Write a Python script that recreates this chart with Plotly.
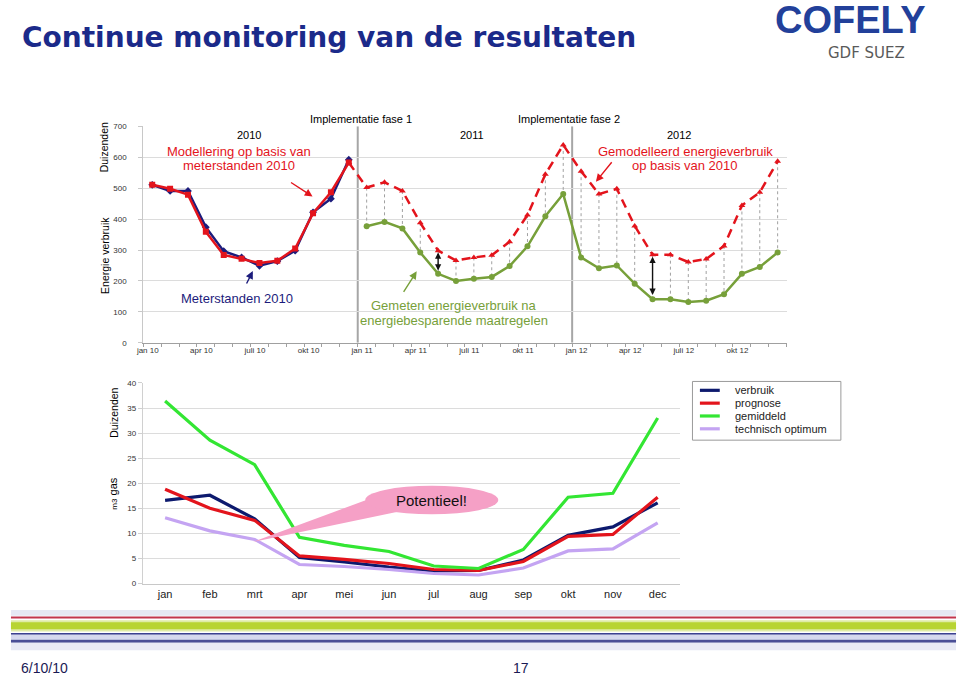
import plotly.graph_objects as go

W, H = 960, 681

# ---------------- data: top chart (thousands) ----------------
top_tick_labels = ["jan 10", "apr 10", "juli 10", "okt 10", "jan 11", "apr 11",
                   "juli 11", "okt 11", "jan 12", "apr 12", "juli 12", "okt 12"]
meterstanden_2010 = [511, 491, 491, 374, 296, 276, 249, 264, 298, 422, 466, 592]
model_2010 = [511, 498, 479, 359, 284, 272, 258, 265, 305, 419, 487, 583]
model_2011_2012 = [502, 519, 491, 388, 298, 266, 276, 283, 327, 413, 545, 640,
                   555, 481, 498, 378, 285, 285, 261, 271, 313, 444, 487, 587]
gemeten_2011_2012 = [377, 391, 370, 292, 223, 200, 207, 213, 248, 312, 409, 481,
                     276, 241, 250, 191, 141, 141, 132, 136, 157, 223, 245, 292]
savings_arrows = [(16, 292, 229), (28, 278, 150)]  # month index, top, bottom

# ---------------- data: bottom chart (thousands m3 gas) ----------------
months_nl = ["jan", "feb", "mrt", "apr", "mei", "jun", "jul", "aug", "sep", "okt", "nov", "dec"]
verbruik = [16.6, 17.6, 12.9, 5.2, 4.3, 3.3, 2.5, 2.6, 4.7, 9.6, 11.3, 16.1]
prognose = [18.8, 15.0, 12.6, 5.5, 4.8, 4.0, 2.8, 2.6, 4.4, 9.4, 9.8, 17.2]
gemiddeld = [36.4, 28.6, 23.7, 9.2, 7.6, 6.4, 3.5, 3.0, 6.8, 17.2, 18.0, 33.0]
technisch_optimum = [13.1, 10.5, 8.8, 3.8, 3.4, 2.8, 2.0, 1.7, 3.1, 6.5, 6.9, 12.1]
bottom_names = ["verbruik", "prognose", "gemiddeld", "technisch optimum"]
bottom_colors = ["#0d1a6e", "#e3141c", "#33e633", "#c4a4f2"]

FONT = "Liberation Sans"
RED = "#e3141c"
NAVY = "#1c1c7c"
GREEN = "#77a03a"


def px(x):
    return x / W


def py(y):
    return 1 - y / H


fig = go.Figure()

# ---------------- top chart traces ----------------
idx2010 = list(range(12))
idx_later = list(range(12, 36))

# drop lines between modelled and measured
dx, dy = [], []
for i, (a, b) in zip(idx_later, zip(model_2011_2012, gemeten_2011_2012)):
    dx += [i, i, None]
    dy += [a, b, None]
fig.add_trace(go.Scatter(x=dx, y=dy, mode="lines", line=dict(color="#a0a0a0", width=1, dash="dot"),
                         xaxis="x", yaxis="y", showlegend=False, hoverinfo="skip"))

fig.add_trace(go.Scatter(x=[11] + idx_later, y=[model_2010[-1]] + model_2011_2012, mode="lines+markers",
                         line=dict(color=RED, width=2.5, dash="9px,6px"),
                         marker=dict(symbol="triangle-up", size=6, color=RED),
                         xaxis="x", yaxis="y", showlegend=False))
fig.add_trace(go.Scatter(x=idx_later, y=gemeten_2011_2012, mode="lines+markers",
                         line=dict(color=GREEN, width=2.5), marker=dict(symbol="circle", size=6, color=GREEN),
                         xaxis="x", yaxis="y", showlegend=False))
fig.add_trace(go.Scatter(x=idx2010, y=meterstanden_2010, mode="lines+markers",
                         line=dict(color=NAVY, width=2.5), marker=dict(symbol="diamond", size=6, color=NAVY),
                         xaxis="x", yaxis="y", showlegend=False))
fig.add_trace(go.Scatter(x=idx2010, y=model_2010, mode="lines+markers",
                         line=dict(color=RED, width=2.5), marker=dict(symbol="square", size=6, color=RED),
                         xaxis="x", yaxis="y", showlegend=False))

# ---------------- bottom chart traces ----------------
for name, vals, col in zip(bottom_names, [verbruik, prognose, gemiddeld, technisch_optimum], bottom_colors):
    fig.add_trace(go.Scatter(x=list(range(12)), y=vals, mode="lines", name=name,
                             line=dict(color=col, width=3.2), xaxis="x2", yaxis="y2", showlegend=False))

shapes = []
annotations = []

# separators in top chart
for xv in (11.5, 23.5):
    shapes.append(dict(type="line", xref="x", yref="y", x0=xv, x1=xv, y0=0, y1=700,
                       line=dict(color="#a6a6a6", width=2), layer="below"))

# double arrows
for xi, ytop, ybot in savings_arrows:
    annotations.append(dict(x=xi, y=ytop, ax=xi, ay=ybot, xref="x", yref="y", axref="x", ayref="y",
                            text="", showarrow=True, arrowhead=2, arrowside="end+start",
                            arrowsize=0.9, arrowwidth=1.4, arrowcolor="#111"))

# pointer arrows (head in data coords, tail offset in pixels)
for hx, hy, ax, ay, col in [(8.97, 473, -23, -15, RED), (5.63, 232, -7, 14, NAVY),
                            (14.8, 231, -14, 22, GREEN), (24.83, 521, 17, -21, RED)]:
    annotations.append(dict(x=hx, y=hy, ax=ax, ay=ay, xref="x", yref="y", text="", showarrow=True,
                            arrowhead=2, arrowsize=1.1, arrowwidth=1.4, arrowcolor=col))


def txt(x, y, s, size, color="#000", family=FONT, xanchor="center", angle=0, bold=False):
    if bold:
        s = "<b>" + s + "</b>"
    annotations.append(dict(x=px(x), y=py(y), xref="paper", yref="paper", text=s, showarrow=False,
                            font=dict(size=size, color=color, family=family), xanchor=xanchor,
                            yanchor="middle", textangle=angle))


# top chart texts
txt(357, 117, "Implementatie fase 1", 11)
txt(566, 117, "Implementatie fase 2", 11)
txt(244, 133, "2010", 11)
txt(468, 133, "2011", 11)
txt(677, 133, "2012", 11)
txt(234, 149, "Modellering op basis van", 13, RED)
txt(234, 164, "meterstanden 2010", 13, RED)
txt(683, 149, "Gemodelleerd energieverbruik", 13, RED)
txt(683, 164, "op basis van 2010", 13, RED)
txt(232, 298, "Meterstanden 2010", 13, NAVY)
txt(450, 306, "Gemeten energieverbruik na", 13, GREEN)
txt(450, 321, "energiebesparende maatregelen", 13, GREEN)
txt(98, 145, "Duizenden", 10.5, "#000", angle=-90)
txt(98, 255, "Energie verbruik", 10.5, "#000", angle=-90)

# bottom chart axis titles
txt(107, 414, "Duizenden", 10.5, "#000", angle=-90)
txt(107, 496, "<span style='font-size:8px'>m3</span> gas", 11, "#000", angle=-90)

# Potentieel callout (in bottom-axis coordinates)
shapes.append(dict(type="path", xref="x2", yref="y2", path="M 1.96,8.3 L 4.75,17.5 L 5.25,14.4 Z",
                   fillcolor="#f5a0c6", line=dict(width=0), layer="above"))
shapes.append(dict(type="circle", xref="x2", yref="y2", x0=4.47, x1=7.44, y0=13.8, y1=19.5,
                   fillcolor="#f5a0c6", line=dict(width=0), layer="above"))
annotations.append(dict(x=5.95, y=16.5, xref="x2", yref="y2", text="Potentieel!", showarrow=False,
                        font=dict(size=15, color="#111", family=FONT)))

# manual legend
shapes.append(dict(type="rect", xref="paper", yref="paper", x0=px(690.5), x1=px(840), y0=py(442), y1=py(382.5),
                   line=dict(color="#9a9a9a", width=1), fillcolor="white"))
for k, (name, col) in enumerate(zip(bottom_names, bottom_colors)):
    yy = 391.5 + k * 13
    shapes.append(dict(type="line", xref="paper", yref="paper", x0=px(698), x1=px(718), y0=py(yy), y1=py(yy),
                       line=dict(color=col, width=3.2)))
    txt(731, yy, name, 11, "#222", xanchor="left")

# title & logo
txt(13, 34, "Continue monitoring van de resultaten", 28, "#1b2a8a", family="DejaVu Sans", xanchor="left", bold=True)
txt(850, 16, "COFELY", 38, "#22409a", family="Liberation Sans", bold=True)
txt(866, 50, "GDF SUEZ", 15, "#5a5a5a", family="DejaVu Sans")

# footer stripes
for y0, y1, col in [(614, 620, "#e6e8f4"), (620.8, 622.8, "#c2364e"), (624.5, 636, "#dfeba6"),
                    (626.5, 633.5, "#b8d432"), (637.3, 639.3, "#3b4090"), (639.3, 644.3, "#d5d8ee"),
                    (644.3, 647.3, "#4a4f96"), (647.3, 655, "#e8eaf5")]:
    shapes.append(dict(type="rect", xref="paper", yref="paper", x0=px(4), x1=px(956), y0=py(y1), y1=py(y0),
                       line=dict(width=0), fillcolor=col, layer="below"))
txt(38, 673, "6/10/10", 14, "#1a1a55")
txt(518, 673, "17", 14, "#1a1a55")

fig.update_layout(
    width=W, height=H, margin=dict(l=0, r=0, t=0, b=0),
    paper_bgcolor="white", plot_bgcolor="white", showlegend=False,
    font=dict(family=FONT, color="#222"),
    shapes=shapes, annotations=annotations,
    xaxis=dict(domain=[px(137.3), px(785.3)], range=[-0.5, 35.5],
               tickmode="array", tickvals=[i * 3 - 0.25 for i in range(len(top_tick_labels))],
               ticktext=top_tick_labels, ticks="", tickfont=dict(size=8, color="#333"),
               showgrid=False, zeroline=False, showline=True, linecolor="#a0a0a0", linewidth=1,
               minor=dict(tickmode="linear", tick0=-0.5, dtick=1, ticks="outside", ticklen=3,
                          tickcolor="#a0a0a0", showgrid=False)),
    yaxis=dict(domain=[py(343.3), py(124)], range=[0, 700], tickmode="linear", tick0=0, dtick=100,
               tickfont=dict(size=8, color="#333"), ticks="outside", ticklen=4, tickcolor="#c8c8c8",
               ticklabelstandoff=10, showgrid=True, gridcolor="#dcdcdc", zeroline=False,
               showline=True, linecolor="#c8c8c8", linewidth=1),
    xaxis2=dict(domain=[px(136.7), px(678)], range=[-0.5, 11.5], anchor="y2",
                tickmode="array", tickvals=list(range(12)), ticktext=months_nl, ticks="",
                tickfont=dict(size=11, color="#222"), showgrid=False, zeroline=False,
                showline=True, linecolor="#c8c8c8", linewidth=1),
    yaxis2=dict(domain=[py(587.3), py(384)], range=[0, 40], anchor="x2", tickmode="linear", tick0=0, dtick=5,
                tickfont=dict(size=8, color="#333"), ticks="outside", ticklen=4, tickcolor="#d0d0d0",
                showgrid=True, gridcolor="#dcdcdc", zeroline=False, showline=True, linecolor="#d0d0d0",
                linewidth=1),
)

fig.write_html("out.html", config={"displayModeBar": False},
               post_script="document.body.style.margin='0';")
